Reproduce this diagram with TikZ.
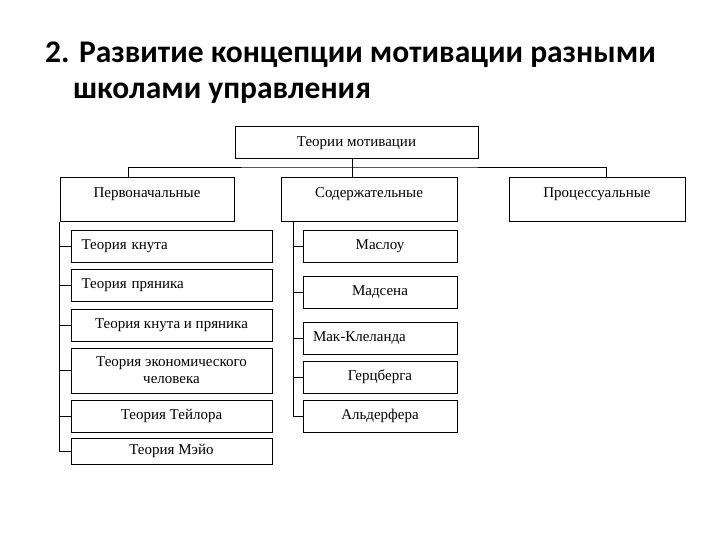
\documentclass[tikz,border=0pt]{standalone}
\usepackage{fontspec}
\setmainfont{Liberation Serif}
\newfontfamily\titlefont{Carlito}

\begin{document}
\begin{tikzpicture}
  [x=1pt, y=-1pt,
   every node/.style={font=\fontsize{15}{17}\selectfont},
   box/.style={draw, line width=1pt, inner sep=0pt, minimum height=32pt},
   head/.style={box, minimum width=176pt, minimum height=44pt, text height=10pt, text depth=15pt},
   leftbox/.style={box, minimum width=201pt},
   rightbox/.style={box, minimum width=154pt},
   flush/.style={text width=#1, align=left},
   titleline/.style={anchor=base west, inner sep=0pt, font=\titlefont\bfseries\fontsize{31.5}{38}\selectfont},
   link/.style={line width=0.8pt}]
  \useasboundingbox (0,0) rectangle (720,540);
  % title
  \node [titleline] (title1) at (45,63) {2. Развитие концепции мотивации разными};
  \node [titleline] (title2) at (73,99) {школами управления};
  % top level
  \node [box, minimum width=243pt] (root) at (356.5,143) {Теории мотивации};
  \node [head, minimum width=174pt] (perv) at (147,200) {Первоначальные};
  \node [head] (sod) at (369,200) {Содержательные};
  \node [head] (proc) at (597,200) {Процессуальные};
  \coordinate (bus) at (352,167);
  \draw [link] (root.south -| bus) -- (bus);
  \draw [link] (perv.north -| 128,0) |- (bus) -| (proc.north -| 606,0);
  \draw [link] (bus) -- (sod.north -| bus);
  % first branch
  \node [leftbox, flush=180pt] (knut) at (171.5,246.5) {Теория кнута};
  \node [leftbox, flush=180pt] (pryan) at (171.5,285.5) {Теория пряника};
  \node [leftbox] (knutpryan) at (171.5,325) {Теория кнута и пряника};
  \node [leftbox, minimum height=45pt, align=center] (econ) at (171.5,370.5)
    {Теория экономического\\человека};
  \node [leftbox] (taylor) at (171.5,416) {Теория Тейлора};
  \node [leftbox, minimum height=26pt] (mayo) at (171.5,451) {Теория Мэйо};
  \coordinate (lbus) at (59,222);
  \draw [link] (lbus) |- (mayo.west);
  \foreach \n in {knut, pryan, knutpryan, econ, taylor}
    \draw [link] (lbus |- \n.west) -- (\n.west);
  % second branch
  \node [rightbox] (maslow) at (380,246.5) {Маслоу};
  \node [rightbox] (madsen) at (380,292.5) {Мадсена};
  \node [rightbox, flush=134pt] (mcc) at (380,338) {Мак-Клеланда};
  \node [rightbox] (herz) at (380,377) {Герцберга};
  \node [rightbox] (alder) at (380,416) {Альдерфера};
  \coordinate (rbus) at (293,222);
  \draw [link] (rbus) |- (alder.west);
  \foreach \n in {maslow, madsen, mcc, herz}
    \draw [link] (rbus |- \n.west) -- (\n.west);
\end{tikzpicture}
\end{document}
